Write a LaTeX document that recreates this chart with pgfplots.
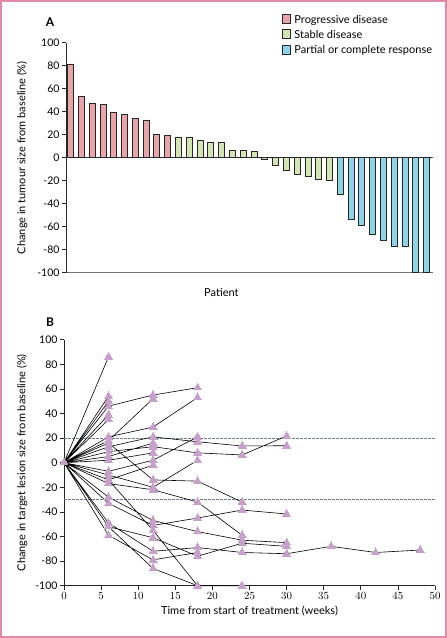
\documentclass[border=0pt]{standalone}
\usepackage{fontspec}
\setmainfont{Lato}
\usepackage{pgfplots}
\pgfplotsset{compat=1.18}
\definecolor{pd}{HTML}{E8A5A8}
\definecolor{sd}{HTML}{D2E6B5}
\definecolor{pr}{HTML}{8FD3E8}
\definecolor{mk}{HTML}{C6A0CA}
\definecolor{framec}{HTML}{E08AA8}
\definecolor{dashc}{HTML}{6A7F90}
\newcommand{\patients}[1]{%
\addplot[#1] coordinates {
(0,0)(6,86) (nan,nan)
(0,0)(6,54) (nan,nan)
(0,0)(6,50) (nan,nan)
(0,0)(6,46)(12,55)(18,61) (nan,nan)
(0,0)(6,39) (nan,nan)
(0,0)(6,35) (nan,nan)
(0,0)(6,18)(12,52) (nan,nan)
(0,0)(6,21)(12,29)(18,53) (nan,nan)
(0,0)(6,13)(12,21)(18,17)(24,13.6)(30,13.8) (nan,nan)
(0,0)(6,9)(12,13)(18,8)(24,6.3)(30,21.7) (nan,nan)
(0,0)(6,5)(12,16) (nan,nan)
(0,0)(6,2)(12,8) (nan,nan)
(0,0)(6,16)(12,-14)(18,-15)(24,-32) (nan,nan)
(0,0)(6,-7)(12,2)(18,21) (nan,nan)
(0,0)(6,-10)(12,-20)(18,2) (nan,nan)
(0,0)(6,-14)(12,-2) (nan,nan)
(0,0)(6,-17)(12,-22)(18,-32)(24,-59) (nan,nan)
(0,0)(6,-28)(12,-47)(18,-56)(24,-63)(30,-65) (nan,nan)
(0,0)(6,-33)(12,-51)(18,-45)(24,-38.5)(30,-41.7) (nan,nan)
(0,0)(6,-49)(12,-72)(18,-69)(24,-73)(30,-74)(36,-68)(42,-73)(48,-71) (nan,nan)
(0,0)(6,-52)(12,-61)(18,-76)(24,-65.5)(30,-68) (nan,nan)
(0,0)(6,-14)(12,-55)(18,-100) (nan,nan)
(0,0)(6,-59)(12,-79)(18,-73) (nan,nan)
(0,0)(6,-52)(12,-86)(18,-100)(24,-100)
};}
\begin{document}
\begin{tikzpicture}
\path[use as bounding box] (0bp,0bp) rectangle (447bp,638bp);
\draw[framec, line width=1.6bp] (0.8bp,0.8bp) rectangle (446.2bp,637.2bp);
\node[font=\fontsize{12bp}{13bp}\selectfont\bfseries] at (50bp,616bp) {A};
\node[font=\fontsize{12bp}{13bp}\selectfont\bfseries] at (50bp,316bp) {B};

% ---------------- Panel A ----------------
\begin{axis}[at={(66bp,365.3bp)}, anchor=south west, scale only axis,
  width=366.6bp, height=230bp,
  xmin=0.583, xmax=34.56, ymin=-100, ymax=100,
  axis x line*=bottom, axis y line*=left,
  axis line style={-},
  x axis line style={draw=black!55, line width=1.3bp},
  y axis line style={draw=black!85, line width=0.7bp},
  xtick=\empty,
  ytick={-100,-80,...,100},
  yticklabels={-100,-80,-60,-40,-20,0,20,40,60,80,100},
  tick align=outside, major tick length=4bp,
  tick style={black!85, line width=0.7bp},
  tick label style={font=\fontsize{10.5bp}{12bp}\selectfont},
  yticklabel style={xshift=1bp},
  xlabel={Patient},
  every axis x label/.style={at={(axis description cs:0.424,0)}, anchor=north, yshift=-12bp},
  ylabel={Change in tumour size from baseline (\%)},
  every axis y label/.style={at={(axis description cs:-0.12,0.5)}, rotate=90, anchor=center},
  label style={font=\fontsize{11bp}{12bp}\selectfont},
  legend style={at={(axis description cs:0.588,1.128)}, anchor=north west, draw=none, fill=none,
     inner sep=0pt, row sep=2.5bp, font=\fontsize{11bp}{12bp}\selectfont,
     nodes={inner sep=1.5bp}},
  legend cell align=left,
  legend image code/.code={\draw[#1, draw=black!85, line width=0.7bp] (0bp,-4bp) rectangle (8bp,5bp);},
  /tikz/every odd column/.append style={column sep=2.5bp},
]
\addplot[ybar, bar width=6bp, bar shift=0pt, fill=pd, draw=black!85, line width=0.7bp] coordinates {
(1,81.5)(2,53.5)(3,47.6)(4,46.5)(5,39.4)(6,37.6)(7,33.8)(8,32.9)(9,20.6)(10,19.4)};
\addlegendentry{Progressive disease}
\addplot[ybar, bar width=6bp, bar shift=0pt, fill=sd, draw=black!85, line width=0.7bp] coordinates {
(11,17.6)(12,17.6)(13,14.7)(14,13.5)(15,13.5)(16,6.5)(17,6.5)(18,5.6)(19,-1.8)(20,-6.8)(21,-10.9)(22,-14.7)(23,-15.9)(24,-19.1)(25,-20)};
\addlegendentry{Stable disease}
\addplot[ybar, bar width=6bp, bar shift=0pt, fill=pr, draw=black!85, line width=0.7bp] coordinates {
(26,-31.8)(27,-54)(28,-59)(29,-67)(30,-72)(31,-77)(32,-77)(33,-100)(34,-100)};
\addlegendentry{Partial or complete response}
\addplot[black!85, line width=0.7bp, forget plot] coordinates {(0.583,0)(34.56,0)};
\end{axis}

% ---------------- Panel B ----------------
\begin{axis}[at={(64bp,52.3bp)}, anchor=south west, scale only axis,
  width=371bp, height=246bp,
  xmin=0, xmax=50, ymin=-100, ymax=100,
  axis x line*=bottom, axis y line*=left,
  axis line style={-, black!85, line width=0.7bp},
  xtick={0,5,...,50},
  ytick={-100,-80,...,100},
  yticklabels={-100,-80,-60,-40,-20,0,20,40,60,80,100},
  tick align=outside, major tick length=4bp,
  tick style={black!85, line width=0.7bp},
  tick label style={font=\fontsize{10.5bp}{12bp}\selectfont},
  yticklabel style={xshift=1bp},
  xticklabel style={yshift=1bp},
  xlabel={Time from start of treatment (weeks)},
  every axis x label/.style={at={(axis description cs:0.5,0)}, anchor=north, yshift=-17bp},
  ylabel={Change in target lesion size from baseline (\%)},
  every axis y label/.style={at={(axis description cs:-0.113,0.5)}, rotate=90, anchor=center},
  label style={font=\fontsize{11bp}{12bp}\selectfont},
  clip=false,
  unbounded coords=jump,
]
\addplot[dashc, line width=0.6bp, dash pattern=on 2.5bp off 1.5bp] coordinates {(0,20)(50,20)};
\addplot[dashc, line width=0.6bp, dash pattern=on 2.5bp off 1.5bp] coordinates {(0,-30)(50,-30)};
\patients{black, line width=0.6bp, no marks}
\patients{only marks, mark=triangle*, mark size=4.6bp, mark options={fill=mk, draw=mk, line width=0pt}}
\end{axis}
\end{tikzpicture}
\end{document}
